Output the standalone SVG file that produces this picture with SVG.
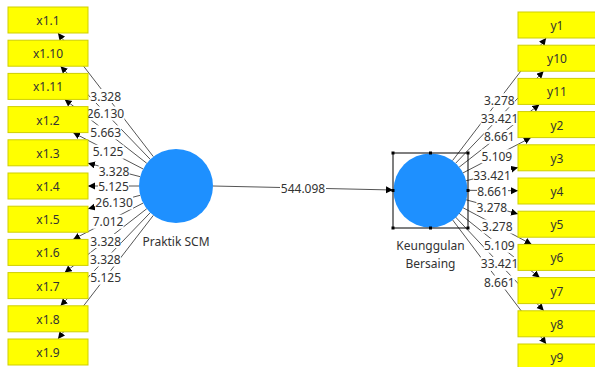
<svg xmlns="http://www.w3.org/2000/svg" width="595" height="367" viewBox="0 0 595 367">
<defs>
<marker id="arr" markerUnits="userSpaceOnUse" markerWidth="8" markerHeight="8" refX="7" refY="3.5" orient="auto">
<path d="M0,0 L7,3.5 L0,7 Z" fill="#000"/>
</marker>
<style>
.ind rect{fill:#ffff00;stroke:#cfcf00;stroke-width:1}
.ind text,.lv text{font-family:"Noto Sans","Liberation Sans",Arial,sans-serif;font-size:12px;fill:#333;text-anchor:middle;dominant-baseline:central}
.lv circle{fill:#1e90ff}
#connectors line{stroke:#555;stroke-width:1;marker-end:url(#arr)}
#connectors rect{fill:#fff}
#connectors text{font-family:"Noto Sans","Liberation Sans",Arial,sans-serif;font-size:12px;fill:#333;text-anchor:middle;dominant-baseline:central}
.sel rect.h{fill:#000}
</style>
</defs>
<rect width="595" height="367" fill="#fff"/>
<g id="connectors">
<line x1="153.4" y1="156.7" x2="58" y2="33"/>
<line x1="150.3" y1="159.4" x2="60.5" y2="66.2"/>
<line x1="146.8" y1="163.3" x2="64.7" y2="99.4"/>
<line x1="143.2" y1="169" x2="73.1" y2="132.6"/>
<line x1="140.2" y1="176.7" x2="88" y2="163.2"/>
<line x1="139" y1="186" x2="88" y2="186"/>
<line x1="140.2" y1="195.3" x2="88" y2="208.8"/>
<line x1="143.2" y1="203" x2="73.1" y2="239.4"/>
<line x1="146.8" y1="208.7" x2="64.7" y2="272.6"/>
<line x1="150.3" y1="212.6" x2="60.5" y2="305.8"/>
<line x1="153.4" y1="215.3" x2="58" y2="339"/>
<line x1="452.5" y1="160.6" x2="546.1" y2="38"/>
<line x1="455.6" y1="163.3" x2="543.6" y2="71.2"/>
<line x1="459.1" y1="167.2" x2="539.4" y2="104.4"/>
<line x1="462.8" y1="173" x2="530.9" y2="137.6"/>
<line x1="465.9" y1="180.8" x2="518" y2="167.5"/>
<line x1="467" y1="190.3" x2="518" y2="190.7"/>
<line x1="465.7" y1="199.7" x2="518" y2="213.9"/>
<line x1="462.6" y1="207.5" x2="531.7" y2="244.4"/>
<line x1="458.9" y1="213.1" x2="539.7" y2="277.6"/>
<line x1="455.4" y1="216.9" x2="543.8" y2="310.8"/>
<line x1="452.3" y1="219.5" x2="546.2" y2="344"/>
<line x1="213" y1="186" x2="393" y2="190"/>
<rect x="90.2" y="89" width="31" height="14"/><text x="105.7" y="96">3.328</text>
<rect x="86.4" y="106.5" width="38" height="14"/><text x="105.4" y="113.5">26.130</text>
<rect x="90.2" y="125.4" width="31" height="14"/><text x="105.7" y="132.4">5.663</text>
<rect x="92.6" y="144.8" width="31" height="14"/><text x="108.1" y="151.8">5.125</text>
<rect x="98.6" y="164" width="31" height="14"/><text x="114.1" y="171">3.328</text>
<rect x="98" y="179.5" width="31" height="14"/><text x="113.5" y="186.5">5.125</text>
<rect x="95.1" y="195.5" width="38" height="14"/><text x="114.1" y="202.5">26.130</text>
<rect x="92.6" y="214.7" width="31" height="14"/><text x="108.1" y="221.7">7.012</text>
<rect x="90.2" y="234" width="31" height="14"/><text x="105.7" y="241">3.328</text>
<rect x="89.9" y="252.5" width="31" height="14"/><text x="105.4" y="259.5">3.328</text>
<rect x="90.2" y="270.7" width="31" height="14"/><text x="105.7" y="277.7">5.125</text>
<rect x="483.8" y="93.3" width="31" height="14"/><text x="499.3" y="100.3">3.278</text>
<rect x="480.6" y="111.2" width="38" height="14"/><text x="499.6" y="118.2">33.421</text>
<rect x="483.8" y="129.8" width="31" height="14"/><text x="499.3" y="136.8">8.661</text>
<rect x="481.4" y="149.3" width="31" height="14"/><text x="496.9" y="156.3">5.109</text>
<rect x="473" y="168" width="38" height="14"/><text x="492" y="175">33.421</text>
<rect x="477" y="184.2" width="31" height="14"/><text x="492.5" y="191.2">8.661</text>
<rect x="476.4" y="200.3" width="31" height="14"/><text x="491.9" y="207.3">3.278</text>
<rect x="481.7" y="219.5" width="31" height="14"/><text x="497.2" y="226.5">3.278</text>
<rect x="483.8" y="238.7" width="31" height="14"/><text x="499.3" y="245.7">5.109</text>
<rect x="480.6" y="256.9" width="38" height="14"/><text x="499.6" y="263.9">33.421</text>
<rect x="483.8" y="275.5" width="31" height="14"/><text x="499.3" y="282.5">8.661</text>
<rect x="280" y="181.5" width="46" height="14"/><text x="303" y="188.5">544.098</text>
</g>
<g id="x1_1" class="ind"><rect x="8" y="7" width="80" height="26"/><text x="48" y="20.5">x1.1</text></g>
<g id="x1_10" class="ind"><rect x="8" y="40.2" width="80" height="26"/><text x="48" y="53.7">x1.10</text></g>
<g id="x1_11" class="ind"><rect x="8" y="73.4" width="80" height="26"/><text x="48" y="86.9">x1.11</text></g>
<g id="x1_2" class="ind"><rect x="8" y="106.6" width="80" height="26"/><text x="48" y="120.1">x1.2</text></g>
<g id="x1_3" class="ind"><rect x="8" y="139.8" width="80" height="26"/><text x="48" y="153.3">x1.3</text></g>
<g id="x1_4" class="ind"><rect x="8" y="173" width="80" height="26"/><text x="48" y="186.5">x1.4</text></g>
<g id="x1_5" class="ind"><rect x="8" y="206.2" width="80" height="26"/><text x="48" y="219.7">x1.5</text></g>
<g id="x1_6" class="ind"><rect x="8" y="239.4" width="80" height="26"/><text x="48" y="252.9">x1.6</text></g>
<g id="x1_7" class="ind"><rect x="8" y="272.6" width="80" height="26"/><text x="48" y="286.1">x1.7</text></g>
<g id="x1_8" class="ind"><rect x="8" y="305.8" width="80" height="26"/><text x="48" y="319.3">x1.8</text></g>
<g id="x1_9" class="ind"><rect x="8" y="339" width="80" height="26"/><text x="48" y="352.5">x1.9</text></g>
<g id="y1" class="ind"><rect x="518" y="12" width="78" height="26"/><text x="557" y="25.5">y1</text></g>
<g id="y10" class="ind"><rect x="518" y="45.2" width="78" height="26"/><text x="557" y="58.7">y10</text></g>
<g id="y11" class="ind"><rect x="518" y="78.4" width="78" height="26"/><text x="557" y="91.9">y11</text></g>
<g id="y2" class="ind"><rect x="518" y="111.6" width="78" height="26"/><text x="557" y="125.1">y2</text></g>
<g id="y3" class="ind"><rect x="518" y="144.8" width="78" height="26"/><text x="557" y="158.3">y3</text></g>
<g id="y4" class="ind"><rect x="518" y="178" width="78" height="26"/><text x="557" y="191.5">y4</text></g>
<g id="y5" class="ind"><rect x="518" y="211.2" width="78" height="26"/><text x="557" y="224.7">y5</text></g>
<g id="y6" class="ind"><rect x="518" y="244.4" width="78" height="26"/><text x="557" y="257.9">y6</text></g>
<g id="y7" class="ind"><rect x="518" y="277.6" width="78" height="26"/><text x="557" y="291.1">y7</text></g>
<g id="y8" class="ind"><rect x="518" y="310.8" width="78" height="26"/><text x="557" y="324.3">y8</text></g>
<g id="y9" class="ind"><rect x="518" y="344" width="78" height="26"/><text x="557" y="357.5">y9</text></g>
<g id="praktik_scm" class="lv"><circle cx="176" cy="186" r="37"/><text x="176" y="241">Praktik SCM</text></g>
<g id="keunggulan_bersaing" class="lv"><circle cx="430.5" cy="190.5" r="37"/><text x="430.5" y="245">Keunggulan</text><text x="430.5" y="263">Bersaing</text>
<g class="sel"><rect x="393" y="153" width="75" height="75" fill="none" stroke="#000" stroke-width="1"/>
<rect class="h" x="391.5" y="151.5" width="3" height="3"/><rect class="h" x="429" y="151.5" width="3" height="3"/><rect class="h" x="466.5" y="151.5" width="3" height="3"/>
<rect class="h" x="391.5" y="189" width="3" height="3"/><rect class="h" x="466.5" y="189" width="3" height="3"/>
<rect class="h" x="391.5" y="226.5" width="3" height="3"/><rect class="h" x="429" y="226.5" width="3" height="3"/><rect class="h" x="466.5" y="226.5" width="3" height="3"/></g>
</g>
</svg>
